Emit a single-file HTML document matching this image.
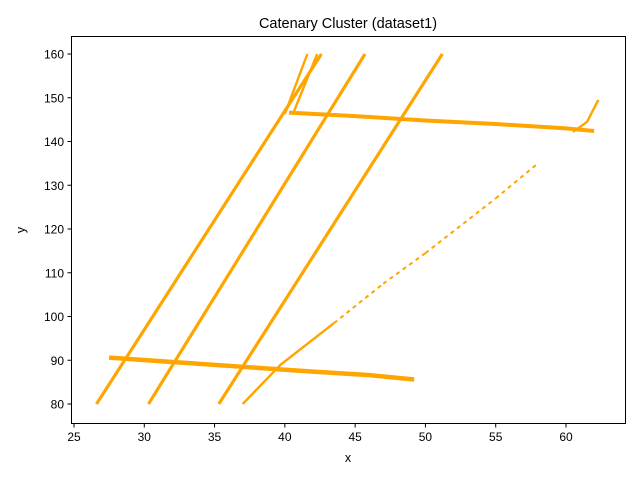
<!DOCTYPE html>
<html><head><meta charset="utf-8"><style>
body{margin:0;background:#fff;}
svg text{font-family:"Liberation Sans","DejaVu Sans",sans-serif;fill:#000;}
</style></head><body>
<svg id="chart" width="640" height="480" xmlns="http://www.w3.org/2000/svg">
<rect width="640" height="480" fill="#fff"/>
<g id="marks"></g>
<rect x="71.5" y="36.5" width="554" height="387" fill="none" stroke="#000" stroke-width="1"/>
<g id="axes"></g>
<text x="348" y="28" font-size="14.5" text-anchor="middle">Catenary Cluster (dataset1)</text>
<text x="348" y="462" font-size="12.5" text-anchor="middle">x</text>
<text x="25" y="230" font-size="12.5" text-anchor="middle" transform="rotate(-90 25 230)">y</text>
</svg>
<script>
const xTicks=[25,30,35,40,45,50,55,60];
const yTicks=[80,90,100,110,120,130,140,150,160];
// wire strands: each is a list of [x,y] points
const strandA=[[26.6,80],[42.6,160]];
const strandB=[[30.3,80],[45.7,160]];
const strandC=[[35.3,80],[51.2,160]];
const strandShort1=[[40.0,146.3],[41.6,160]];
const strandShort2=[[40.6,146.5],[42.3,160]];
const strandDSteep=[[37.0,80],[39.7,89],[43.5,98.5]];
const strandSparse=[[43.5,98.5],[47,107.5],[50,114.5],[55,127],[58,135]];
const topCable=[[40.3,146.6],[45,145.8],[50,144.8],[55,144.0],[60,143.0],[62,142.4]];
const topHook=[[60.5,142.2],[61.5,144.5],[62.3,149.5]];
const bottomCable=[[27.5,90.6],[32,89.6],[37,88.5],[42,87.4],[46,86.6],[49.2,85.6]];
const strands=[strandA,strandB,strandC,strandShort1,strandShort2,strandDSteep,topCable,bottomCable,topHook];
const widths=[3.2,3.2,3.2,2.4,2.4,2.4,4,4.5,2.4];
const X=v=>74+(v-25)*14.057, Y=v=>54+(160-v)*4.375;
const ns="http://www.w3.org/2000/svg";
const marks=document.getElementById('marks'), axes=document.getElementById('axes');
strands.forEach((s,i)=>{
  const p=document.createElementNS(ns,'polyline');
  
  
  p.setAttribute('points',s.map(d=>X(d[0])+','+Y(d[1])).join(' '));
  p.setAttribute('fill','none');p.setAttribute('stroke','#ffa500');
  p.setAttribute('stroke-width',widths[i]);
  marks.appendChild(p);
});
strandSparse.forEach((d,i)=>{
  if(i===0)return;
  const a=strandSparse[i-1];
  const l=document.createElementNS(ns,'line');
  
  
  l.setAttribute('x1',X(a[0]));l.setAttribute('y1',Y(a[1]));
  l.setAttribute('x2',X(d[0]));l.setAttribute('y2',Y(d[1]));
  l.setAttribute('stroke','#ffa500');l.setAttribute('stroke-width',2);
  l.setAttribute('stroke-dasharray','4 4');
  marks.appendChild(l);
});
xTicks.forEach(t=>{
  const l=document.createElementNS(ns,'line');
  
  
  l.setAttribute('x1',X(t));l.setAttribute('x2',X(t));l.setAttribute('y1',423.5);l.setAttribute('y2',427.5);l.setAttribute('stroke','#000');
  axes.appendChild(l);
  const tx=document.createElementNS(ns,'text');
  
  
  tx.setAttribute('x',X(t));tx.setAttribute('y',441);tx.setAttribute('font-size','12');tx.setAttribute('text-anchor','middle');
  tx.textContent=t;axes.appendChild(tx);
});
yTicks.forEach(t=>{
  const l=document.createElementNS(ns,'line');
  
  
  l.setAttribute('x1',67.5);l.setAttribute('x2',71.5);l.setAttribute('y1',Y(t));l.setAttribute('y2',Y(t));l.setAttribute('stroke','#000');
  axes.appendChild(l);
  const tx=document.createElementNS(ns,'text');
  
  
  tx.setAttribute('x',64);tx.setAttribute('y',Y(t)+4.5);tx.setAttribute('font-size','12');tx.setAttribute('text-anchor','end');
  tx.textContent=t;axes.appendChild(tx);
});
</script>
</body></html>
